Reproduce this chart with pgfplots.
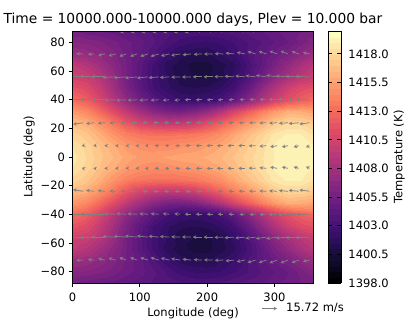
\documentclass[border=0pt]{standalone}
\usepackage{fontspec}
\setmainfont{DejaVu Sans}
\usepackage{pgfplots}
\usepackage{pgfplotstable}
\pgfplotsset{compat=1.18}
\usetikzlibrary{arrows.meta}

\pgfplotsset{
  colormap={magmabase}{rgb255=(0,0,4) rgb255=(20,14,54) rgb255=(59,15,112) rgb255=(100,26,128) rgb255=(140,41,129) rgb255=(183,55,121) rgb255=(222,73,104) rgb255=(247,112,92) rgb255=(254,159,109) rgb255=(254,207,146) rgb255=(252,253,191)},
  colormap={mag44}{samples of colormap=(44 of magmabase)},
}
\newcommand{\tf}{\fontsize{11.5}{13.5}\selectfont}

% temperature, one line per latitude
\pgfplotstableread[row sep=\\]{
lon lat t\\
0 -87.9 1405.6\\ 20 -87.9 1405.2\\ 40 -87.9 1405.0\\ 60 -87.9 1404.8\\ 80 -87.9 1404.5\\ 100 -87.9 1404.2\\ 120 -87.9 1403.9\\ 140 -87.9 1403.7\\ 160 -87.9 1403.5\\ 180 -87.9 1403.4\\ 200 -87.9 1403.4\\ 220 -87.9 1403.6\\ 240 -87.9 1403.9\\ 260 -87.9 1404.2\\ 280 -87.9 1404.5\\ 300 -87.9 1404.9\\ 320 -87.9 1405.2\\ 340 -87.9 1405.5\\ 358 -87.9 1405.6\\
0 -80 1406.5\\ 20 -80 1406.4\\ 40 -80 1406.1\\ 60 -80 1405.7\\ 80 -80 1405.2\\ 100 -80 1404.7\\ 120 -80 1404.1\\ 140 -80 1403.4\\ 160 -80 1402.8\\ 180 -80 1402.5\\ 200 -80 1402.4\\ 220 -80 1402.6\\ 240 -80 1403.0\\ 260 -80 1403.5\\ 280 -80 1404.0\\ 300 -80 1404.5\\ 320 -80 1405.0\\ 340 -80 1405.7\\ 358 -80 1406.4\\
0 -72 1407.7\\ 20 -72 1407.4\\ 40 -72 1406.9\\ 60 -72 1406.2\\ 80 -72 1405.4\\ 100 -72 1404.6\\ 120 -72 1403.6\\ 140 -72 1402.5\\ 160 -72 1401.7\\ 180 -72 1401.5\\ 200 -72 1401.4\\ 220 -72 1402.0\\ 240 -72 1402.5\\ 260 -72 1403.6\\ 280 -72 1404.4\\ 300 -72 1405.1\\ 320 -72 1405.9\\ 340 -72 1406.8\\ 358 -72 1407.6\\
0 -64 1409.6\\ 20 -64 1408.9\\ 40 -64 1407.9\\ 60 -64 1406.7\\ 80 -64 1405.5\\ 100 -64 1404.2\\ 120 -64 1402.9\\ 140 -64 1401.7\\ 160 -64 1401.2\\ 180 -64 1400.8\\ 200 -64 1400.8\\ 220 -64 1401.3\\ 240 -64 1401.9\\ 260 -64 1403.1\\ 280 -64 1404.5\\ 300 -64 1405.8\\ 320 -64 1407.1\\ 340 -64 1408.3\\ 358 -64 1409.2\\
0 -56 1410.3\\ 20 -56 1410.0\\ 40 -56 1409.0\\ 60 -56 1407.4\\ 80 -56 1405.6\\ 100 -56 1404.1\\ 120 -56 1402.8\\ 140 -56 1402.0\\ 160 -56 1401.2\\ 180 -56 1401.0\\ 200 -56 1400.9\\ 220 -56 1401.4\\ 240 -56 1402.2\\ 260 -56 1403.5\\ 280 -56 1405.2\\ 300 -56 1406.8\\ 320 -56 1408.2\\ 340 -56 1409.2\\ 358 -56 1410.0\\
0 -48 1411.8\\ 20 -48 1411.2\\ 40 -48 1409.8\\ 60 -48 1407.9\\ 80 -48 1406.0\\ 100 -48 1404.3\\ 120 -48 1403.0\\ 140 -48 1402.1\\ 160 -48 1401.6\\ 180 -48 1401.5\\ 200 -48 1401.6\\ 220 -48 1402.1\\ 240 -48 1403.0\\ 260 -48 1404.8\\ 280 -48 1406.8\\ 300 -48 1408.6\\ 320 -48 1410.2\\ 340 -48 1411.2\\ 358 -48 1411.6\\
0 -40 1413.2\\ 20 -40 1412.4\\ 40 -40 1410.9\\ 60 -40 1408.9\\ 80 -40 1407.0\\ 100 -40 1405.5\\ 120 -40 1404.1\\ 140 -40 1403.1\\ 160 -40 1402.5\\ 180 -40 1402.4\\ 200 -40 1402.6\\ 220 -40 1403.2\\ 240 -40 1404.6\\ 260 -40 1406.5\\ 280 -40 1408.4\\ 300 -40 1410.2\\ 320 -40 1411.6\\ 340 -40 1412.5\\ 358 -40 1413.0\\
0 -32 1415.2\\ 20 -32 1414.4\\ 40 -32 1413.0\\ 60 -32 1411.2\\ 80 -32 1409.4\\ 100 -32 1407.8\\ 120 -32 1406.6\\ 140 -32 1405.8\\ 160 -32 1405.6\\ 180 -32 1406.1\\ 200 -32 1407.1\\ 220 -32 1408.7\\ 240 -32 1410.6\\ 260 -32 1412.3\\ 280 -32 1413.8\\ 300 -32 1415.2\\ 320 -32 1416.1\\ 340 -32 1416.0\\ 358 -32 1415.6\\
0 -24 1416.7\\ 20 -24 1416.2\\ 40 -24 1415.0\\ 60 -24 1413.6\\ 80 -24 1412.0\\ 100 -24 1410.7\\ 120 -24 1409.9\\ 140 -24 1409.5\\ 160 -24 1409.6\\ 180 -24 1410.2\\ 200 -24 1411.3\\ 220 -24 1412.7\\ 240 -24 1414.0\\ 260 -24 1415.2\\ 280 -24 1416.3\\ 300 -24 1417.4\\ 320 -24 1418.0\\ 340 -24 1417.9\\ 358 -24 1417.3\\
0 -16 1417.8\\ 20 -16 1417.2\\ 40 -16 1416.2\\ 60 -16 1415.0\\ 80 -16 1414.0\\ 100 -16 1413.5\\ 120 -16 1413.3\\ 140 -16 1413.3\\ 160 -16 1413.4\\ 180 -16 1413.6\\ 200 -16 1414.1\\ 220 -16 1414.8\\ 240 -16 1415.8\\ 260 -16 1416.8\\ 280 -16 1417.7\\ 300 -16 1418.7\\ 320 -16 1419.1\\ 340 -16 1419.0\\ 358 -16 1418.4\\
0 -8 1418.5\\ 20 -8 1417.8\\ 40 -8 1417.0\\ 60 -8 1416.1\\ 80 -8 1415.3\\ 100 -8 1414.8\\ 120 -8 1414.6\\ 140 -8 1414.6\\ 160 -8 1414.9\\ 180 -8 1415.1\\ 200 -8 1415.5\\ 220 -8 1416.0\\ 240 -8 1416.7\\ 260 -8 1417.5\\ 280 -8 1418.3\\ 300 -8 1419.1\\ 320 -8 1419.5\\ 340 -8 1419.4\\ 358 -8 1419.0\\
0 0 1418.8\\ 20 0 1418.0\\ 40 0 1417.2\\ 60 0 1416.5\\ 80 0 1415.8\\ 100 0 1415.4\\ 120 0 1415.3\\ 140 0 1415.6\\ 160 0 1415.8\\ 180 0 1415.9\\ 200 0 1416.1\\ 220 0 1416.5\\ 240 0 1417.1\\ 260 0 1417.8\\ 280 0 1418.4\\ 300 0 1419.0\\ 320 0 1419.4\\ 340 0 1419.4\\ 358 0 1419.0\\
0 8 1418.5\\ 20 8 1417.8\\ 40 8 1417.0\\ 60 8 1416.1\\ 80 8 1415.3\\ 100 8 1414.8\\ 120 8 1414.6\\ 140 8 1414.6\\ 160 8 1414.9\\ 180 8 1415.1\\ 200 8 1415.5\\ 220 8 1416.0\\ 240 8 1416.7\\ 260 8 1417.5\\ 280 8 1418.3\\ 300 8 1419.1\\ 320 8 1419.5\\ 340 8 1419.4\\ 358 8 1419.0\\
0 16 1417.8\\ 20 16 1417.2\\ 40 16 1416.2\\ 60 16 1415.0\\ 80 16 1414.0\\ 100 16 1413.5\\ 120 16 1413.3\\ 140 16 1413.3\\ 160 16 1413.4\\ 180 16 1413.6\\ 200 16 1414.1\\ 220 16 1414.8\\ 240 16 1415.8\\ 260 16 1416.8\\ 280 16 1417.7\\ 300 16 1418.7\\ 320 16 1419.1\\ 340 16 1419.0\\ 358 16 1418.4\\
0 24 1416.7\\ 20 24 1416.2\\ 40 24 1415.0\\ 60 24 1413.6\\ 80 24 1412.0\\ 100 24 1410.7\\ 120 24 1409.9\\ 140 24 1409.5\\ 160 24 1409.6\\ 180 24 1410.2\\ 200 24 1411.3\\ 220 24 1412.7\\ 240 24 1414.0\\ 260 24 1415.2\\ 280 24 1416.3\\ 300 24 1417.4\\ 320 24 1418.0\\ 340 24 1417.9\\ 358 24 1417.3\\
0 32 1415.2\\ 20 32 1414.4\\ 40 32 1413.0\\ 60 32 1411.2\\ 80 32 1409.4\\ 100 32 1407.8\\ 120 32 1406.6\\ 140 32 1405.8\\ 160 32 1405.6\\ 180 32 1406.1\\ 200 32 1407.1\\ 220 32 1408.7\\ 240 32 1410.6\\ 260 32 1412.3\\ 280 32 1413.8\\ 300 32 1415.2\\ 320 32 1416.1\\ 340 32 1416.0\\ 358 32 1415.6\\
0 40 1413.2\\ 20 40 1412.4\\ 40 40 1410.9\\ 60 40 1408.9\\ 80 40 1407.0\\ 100 40 1405.5\\ 120 40 1404.1\\ 140 40 1403.1\\ 160 40 1402.5\\ 180 40 1402.4\\ 200 40 1402.6\\ 220 40 1403.2\\ 240 40 1404.6\\ 260 40 1406.5\\ 280 40 1408.4\\ 300 40 1410.2\\ 320 40 1411.6\\ 340 40 1412.5\\ 358 40 1413.0\\
0 48 1411.8\\ 20 48 1411.2\\ 40 48 1409.8\\ 60 48 1407.9\\ 80 48 1406.0\\ 100 48 1404.3\\ 120 48 1403.0\\ 140 48 1402.1\\ 160 48 1401.6\\ 180 48 1401.5\\ 200 48 1401.6\\ 220 48 1402.1\\ 240 48 1403.0\\ 260 48 1404.8\\ 280 48 1406.8\\ 300 48 1408.6\\ 320 48 1410.2\\ 340 48 1411.2\\ 358 48 1411.6\\
0 56 1410.3\\ 20 56 1410.0\\ 40 56 1409.0\\ 60 56 1407.4\\ 80 56 1405.6\\ 100 56 1404.1\\ 120 56 1402.8\\ 140 56 1402.0\\ 160 56 1401.2\\ 180 56 1401.0\\ 200 56 1400.9\\ 220 56 1401.4\\ 240 56 1402.2\\ 260 56 1403.5\\ 280 56 1405.2\\ 300 56 1406.8\\ 320 56 1408.2\\ 340 56 1409.2\\ 358 56 1410.0\\
0 64 1409.6\\ 20 64 1408.9\\ 40 64 1407.9\\ 60 64 1406.7\\ 80 64 1405.5\\ 100 64 1404.2\\ 120 64 1402.9\\ 140 64 1401.7\\ 160 64 1401.2\\ 180 64 1400.8\\ 200 64 1400.8\\ 220 64 1401.3\\ 240 64 1401.9\\ 260 64 1403.1\\ 280 64 1404.5\\ 300 64 1405.8\\ 320 64 1407.1\\ 340 64 1408.3\\ 358 64 1409.2\\
0 72 1407.7\\ 20 72 1407.4\\ 40 72 1406.9\\ 60 72 1406.2\\ 80 72 1405.4\\ 100 72 1404.6\\ 120 72 1403.6\\ 140 72 1402.5\\ 160 72 1401.7\\ 180 72 1401.5\\ 200 72 1401.4\\ 220 72 1402.0\\ 240 72 1402.5\\ 260 72 1403.6\\ 280 72 1404.4\\ 300 72 1405.1\\ 320 72 1405.9\\ 340 72 1406.8\\ 358 72 1407.6\\
0 80 1406.5\\ 20 80 1406.4\\ 40 80 1406.1\\ 60 80 1405.7\\ 80 80 1405.2\\ 100 80 1404.7\\ 120 80 1404.1\\ 140 80 1403.4\\ 160 80 1402.8\\ 180 80 1402.5\\ 200 80 1402.4\\ 220 80 1402.6\\ 240 80 1403.0\\ 260 80 1403.5\\ 280 80 1404.0\\ 300 80 1404.5\\ 320 80 1405.0\\ 340 80 1405.7\\ 358 80 1406.4\\
0 87.9 1405.6\\ 20 87.9 1405.2\\ 40 87.9 1405.0\\ 60 87.9 1404.8\\ 80 87.9 1404.5\\ 100 87.9 1404.2\\ 120 87.9 1403.9\\ 140 87.9 1403.7\\ 160 87.9 1403.5\\ 180 87.9 1403.4\\ 200 87.9 1403.4\\ 220 87.9 1403.6\\ 240 87.9 1403.9\\ 260 87.9 1404.2\\ 280 87.9 1404.5\\ 300 87.9 1404.9\\ 320 87.9 1405.2\\ 340 87.9 1405.5\\ 358 87.9 1405.6\\
}\field

% wind vectors in m/s, tails at the grid points
\pgfplotstableread[row sep=\\]{
lon lat u v\\
80 87.9 -6.3 -1.6\\ 96 87.9 -6.3 -1.6\\ 112 87.9 -6.3 -1.6\\ 128 87.9 -6.3 -1.6\\ 144 87.9 -6.3 -1.6\\ 160 87.9 -6.3 -1.6\\ 176 87.9 -6.3 -1.6\\ 192 87.9 -5.2 0.5\\ 208 87.9 -5.2 0.5\\ 224 87.9 -5.2 0.5\\ 240 87.9 -5.2 0.5\\ 256 87.9 -5.2 0.5\\ 272 87.9 -5.2 0.5\\
16 71.9 -7.3 0.3\\ 32 71.9 -6.3 -0.5\\ 48 71.9 -6.8 -1.6\\ 64 71.9 -7.3 -2.1\\ 80 71.9 -7.3 -2.6\\ 96 71.9 -7.3 -2.6\\ 112 71.9 -7.9 -2.6\\ 128 71.9 -8.4 -2.6\\ 144 71.9 -8.9 -2.1\\ 160 71.9 -9.4 -1.6\\ 176 71.9 -8.9 -1.0\\ 192 71.9 -8.4 -0.5\\ 208 71.9 -8.9 -0.2\\ 224 71.9 -8.9 0.3\\ 240 71.9 -8.9 1.0\\ 256 71.9 -8.4 1.8\\ 272 71.9 -8.4 2.6\\ 288 71.9 -7.9 2.8\\ 304 71.9 -7.9 3.1\\ 320 71.9 -7.7 3.1\\ 336 71.9 -7.3 2.8\\ 352 71.9 -6.8 1.6\\
16 55.9 -14.7 1.0\\ 32 55.9 -14.7 0.7\\ 48 55.9 -14.1 0\\ 64 55.9 -13.6 -0.7\\ 80 55.9 -13.1 -1.0\\ 96 55.9 -12.6 -1.3\\ 112 55.9 -11.5 -1.3\\ 128 55.9 -10.5 -1.0\\ 144 55.9 -10.0 -0.7\\ 160 55.9 -9.4 -0.4\\ 176 55.9 -9.4 -0.2\\ 192 55.9 -9.4 0\\ 208 55.9 -9.4 0\\ 224 55.9 -9.4 0.3\\ 240 55.9 -10.0 0.7\\ 256 55.9 -10.0 1.0\\ 272 55.9 -10.5 1.3\\ 288 55.9 -11.0 1.6\\ 304 55.9 -11.5 1.6\\ 320 55.9 -12.6 1.0\\ 336 55.9 -13.6 0.7\\ 352 55.9 -14.7 0.5\\
16 39.9 -14.7 0\\ 32 39.9 -14.1 0\\ 48 39.9 -12.9 0\\ 64 39.9 -11.5 -0.5\\ 80 39.9 -10.5 -0.5\\ 96 39.9 -10.0 -0.5\\ 112 39.9 -8.9 -0.5\\ 128 39.9 -8.4 -0.5\\ 144 39.9 -7.0 -0.5\\ 160 39.9 -6.1 -0.5\\ 176 39.9 -6.6 0\\ 192 39.9 -6.3 0\\ 208 39.9 -6.0 0\\ 224 39.9 -5.8 0\\ 240 39.9 -5.8 0\\ 256 39.9 -5.6 0.4\\ 272 39.9 -6.3 0.4\\ 288 39.9 -7.1 0.4\\ 304 39.9 -8.7 0.4\\ 320 39.9 -10.5 0.4\\ 336 39.9 -11.5 0.2\\ 352 39.9 -13.6 0.2\\
16 23.9 -10.5 -1.6\\ 32 23.9 -8.4 -1.0\\ 48 23.9 -7.3 -0.7\\ 64 23.9 -6.3 -0.3\\ 80 23.9 -5.8 0\\ 96 23.9 -5.8 0\\ 112 23.9 -5.8 0\\ 128 23.9 -5.8 0\\ 144 23.9 -5.6 0\\ 160 23.9 -5.6 0\\ 176 23.9 -5.6 0\\ 192 23.9 -5.8 0\\ 208 23.9 -5.8 0\\ 224 23.9 -5.8 0\\ 240 23.9 -5.8 0\\ 256 23.9 -6.3 -0.1\\ 272 23.9 -6.8 -0.2\\ 288 23.9 -7.3 -0.3\\ 304 23.9 -8.4 -0.5\\ 320 23.9 -9.4 -0.7\\ 336 23.9 -10.5 -1.0\\ 352 23.9 -10.5 -1.4\\
16 7.9 -1.6 -0.5\\ 32 7.9 -0.8 -0.1\\ 48 7.9 -0.5 0\\ 64 7.9 -0.5 0\\ 80 7.9 -0.8 0\\ 96 7.9 -1.6 0\\ 112 7.9 -3.1 0\\ 128 7.9 -4.2 0\\ 144 7.9 -4.7 0\\ 160 7.9 -5.2 0\\ 176 7.9 -5.8 0\\ 192 7.9 -6.3 0\\ 208 7.9 -6.3 0\\ 224 7.9 -6.8 0\\ 240 7.9 -6.8 0\\ 256 7.9 -6.8 0\\ 272 7.9 -7.3 -0.3\\ 288 7.9 -7.3 -0.7\\ 304 7.9 -7.3 -1.3\\ 320 7.9 -6.3 -1.4\\ 336 7.9 -5.2 -1.6\\ 352 7.9 -3.7 -1.9\\
16 -7.9 -1.6 0.5\\ 32 -7.9 -0.8 0.1\\ 48 -7.9 -0.5 0\\ 64 -7.9 -0.5 0\\ 80 -7.9 -0.8 0\\ 96 -7.9 -1.6 0\\ 112 -7.9 -3.1 0\\ 128 -7.9 -4.2 0\\ 144 -7.9 -4.7 0\\ 160 -7.9 -5.2 0\\ 176 -7.9 -5.8 0\\ 192 -7.9 -6.3 0\\ 208 -7.9 -6.3 0\\ 224 -7.9 -6.8 0\\ 240 -7.9 -6.8 0\\ 256 -7.9 -6.8 0\\ 272 -7.9 -7.3 0.3\\ 288 -7.9 -7.3 0.7\\ 304 -7.9 -7.3 1.3\\ 320 -7.9 -6.3 1.4\\ 336 -7.9 -5.2 1.6\\ 352 -7.9 -3.7 1.9\\
16 -23.9 -10.5 1.6\\ 32 -23.9 -8.4 1.0\\ 48 -23.9 -7.3 0.7\\ 64 -23.9 -6.3 0.3\\ 80 -23.9 -5.8 0\\ 96 -23.9 -5.8 0\\ 112 -23.9 -5.8 0\\ 128 -23.9 -5.8 0\\ 144 -23.9 -5.6 0\\ 160 -23.9 -5.6 0\\ 176 -23.9 -5.6 0\\ 192 -23.9 -5.8 0\\ 208 -23.9 -5.8 0\\ 224 -23.9 -5.8 0\\ 240 -23.9 -5.8 0\\ 256 -23.9 -6.3 0.1\\ 272 -23.9 -6.8 0.2\\ 288 -23.9 -7.3 0.3\\ 304 -23.9 -8.4 0.5\\ 320 -23.9 -9.4 0.7\\ 336 -23.9 -10.5 1.0\\ 352 -23.9 -10.5 1.4\\
16 -39.9 -14.7 0\\ 32 -39.9 -14.1 0\\ 48 -39.9 -12.9 0\\ 64 -39.9 -11.5 0.5\\ 80 -39.9 -10.5 0.5\\ 96 -39.9 -10.0 0.5\\ 112 -39.9 -8.9 0.5\\ 128 -39.9 -8.4 0.5\\ 144 -39.9 -7.0 0.5\\ 160 -39.9 -6.1 0.5\\ 176 -39.9 -6.6 0\\ 192 -39.9 -6.3 0\\ 208 -39.9 -6.0 0\\ 224 -39.9 -5.8 0\\ 240 -39.9 -5.8 0\\ 256 -39.9 -5.6 -0.4\\ 272 -39.9 -6.3 -0.4\\ 288 -39.9 -7.1 -0.4\\ 304 -39.9 -8.7 -0.4\\ 320 -39.9 -10.5 -0.4\\ 336 -39.9 -11.5 -0.2\\ 352 -39.9 -13.6 -0.2\\
16 -55.9 -14.7 -1.0\\ 32 -55.9 -14.7 -0.7\\ 48 -55.9 -14.1 0\\ 64 -55.9 -13.6 0.7\\ 80 -55.9 -13.1 1.0\\ 96 -55.9 -12.6 1.3\\ 112 -55.9 -11.5 1.3\\ 128 -55.9 -10.5 1.0\\ 144 -55.9 -10.0 0.7\\ 160 -55.9 -9.4 0.4\\ 176 -55.9 -9.4 0.2\\ 192 -55.9 -9.4 0\\ 208 -55.9 -9.4 0\\ 224 -55.9 -9.4 -0.3\\ 240 -55.9 -10.0 -0.7\\ 256 -55.9 -10.0 -1.0\\ 272 -55.9 -10.5 -1.3\\ 288 -55.9 -11.0 -1.6\\ 304 -55.9 -11.5 -1.6\\ 320 -55.9 -12.6 -1.0\\ 336 -55.9 -13.6 -0.7\\ 352 -55.9 -14.7 -0.5\\
16 -71.9 -7.3 -0.3\\ 32 -71.9 -6.3 0.5\\ 48 -71.9 -6.8 1.6\\ 64 -71.9 -7.3 2.1\\ 80 -71.9 -7.3 2.6\\ 96 -71.9 -7.3 2.6\\ 112 -71.9 -7.9 2.6\\ 128 -71.9 -8.4 2.6\\ 144 -71.9 -8.9 2.1\\ 160 -71.9 -9.4 1.6\\ 176 -71.9 -8.9 1.0\\ 192 -71.9 -8.4 0.5\\ 208 -71.9 -8.9 0.2\\ 224 -71.9 -8.9 -0.3\\ 240 -71.9 -8.9 -1.0\\ 256 -71.9 -8.4 -1.8\\ 272 -71.9 -8.4 -2.6\\ 288 -71.9 -7.9 -2.8\\ 304 -71.9 -7.9 -3.1\\ 320 -71.9 -7.7 -3.1\\ 336 -71.9 -7.3 -2.8\\ 352 -71.9 -6.8 -1.6\\
}\wind

\begin{document}
\begin{tikzpicture}[x=1pt,y=1pt]
\useasboundingbox (0,0) rectangle (415,332);
\begin{axis}[
    at={(72.5pt,49pt)}, anchor=south west,
    scale only axis, width=241pt, height=252pt,
    xmin=0, xmax=358, ymin=-87.9, ymax=87.9,
    axis on top,
    xtick={0,100,200,300},
    ytick={-80,-60,-40,-20,0,20,40,60,80},
    yticklabels={−80,−60,−40,−20,0,20,40,60,80},
    xticklabels={0,100,200,300},
    tick align=outside, tick pos=left,
    major tick length=4pt,
    every tick/.style={black,line width=0.9pt},
    axis line style={line width=0.9pt},
    tick label style={font=\tf},
    xticklabel style={yshift=-2.5pt},
    label style={font=\tf},
    xlabel={Longitude (deg)},
    xlabel style={yshift=1pt},
    ylabel={Latitude (deg)},
    ylabel style={yshift=-1pt},
    title={Time = 10000.000-10000.000 days, Plev = 10.000 bar},
    title style={font=\fontsize{13.8}{16}\selectfont,yshift=-5pt},
    colormap name=mag44,
    colormap access=piecewise constant,
    point meta min=1398, point meta max=1420,
    colorbar sampled,
    colorbar style={
        at={(1.06,1)}, anchor=north west,
        width=13pt, samples=45,
        ytick={1398,1400.5,1403,1405.5,1408,1410.5,1413,1415.5,1418},
        yticklabels={1398.0,1400.5,1403.0,1405.5,1408.0,1410.5,1413.0,1415.5,1418.0},
        ylabel={Temperature (K)},
        yticklabel pos=right,
        ylabel style={font=\tf, yshift=2pt},
        tick label style={font=\tf},
        yticklabel style={xshift=4pt},
        major tick length=4pt,
    },
]
\addplot[contour filled={number=44}, mesh/cols=19, point meta=\thisrow{t}] table[x=lon,y=lat] {\field};
\addplot[gray, line width=0.75pt, -{Stealth[length=3.5pt,width=3.6pt]},
    quiver={u=\thisrow{u}*1.42, v=\thisrow{v}*0.664}] table[x=lon,y=lat] {\wind};
\end{axis}
\draw[gray, line width=0.75pt, -{Stealth[length=3.5pt,width=3.6pt]}] (262,23.5) -- (277,23.5);
\node[anchor=west, inner sep=0pt, font=\tf] at (286,24) {15.72 m/s};
\end{tikzpicture}
\end{document}
